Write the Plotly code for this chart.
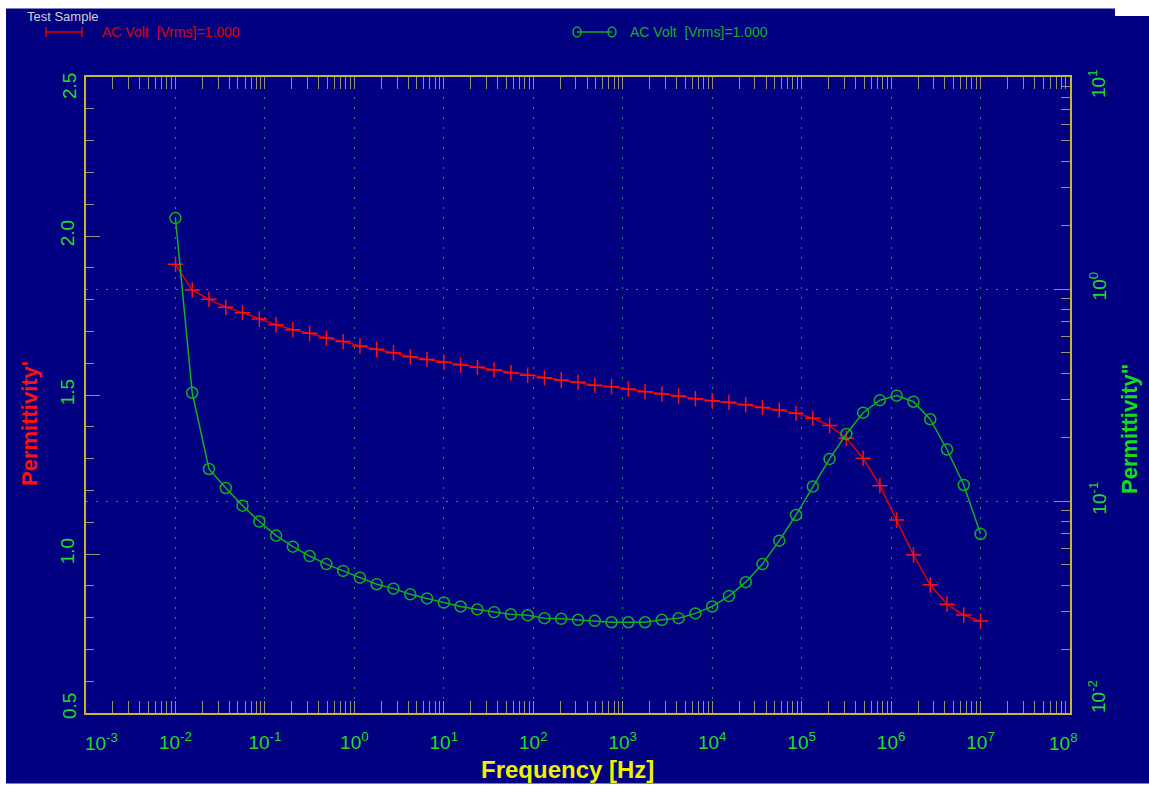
import plotly.graph_objects as go

# Frequency sweep [Hz]
freq_hz = [0.01, 0.0154, 0.02371, 0.03652, 0.05623, 0.0866, 0.1334, 0.2054, 0.3162, 0.487, 0.7499,
           1.155, 1.778, 2.738, 4.217, 6.494, 10, 15.4, 23.71, 36.52, 56.23, 86.6, 133.4, 205.4,
           316.2, 487, 749.9, 1155, 1778, 2738, 4217, 6494, 1.0e4, 1.54e4, 2.371e4, 3.652e4,
           5.623e4, 8.66e4, 1.334e5, 2.054e5, 3.162e5, 4.87e5, 7.499e5, 1.155e6, 1.778e6,
           2.738e6, 4.217e6, 6.494e6, 1.0e7]

# Real part of permittivity
eps_real = [1.911, 1.830, 1.801, 1.776, 1.759, 1.739, 1.721, 1.705, 1.694, 1.679, 1.668, 1.654,
            1.644, 1.633, 1.620, 1.612, 1.603, 1.594, 1.587, 1.579, 1.570, 1.562, 1.554, 1.547,
            1.540, 1.531, 1.526, 1.519, 1.510, 1.503, 1.497, 1.488, 1.482, 1.477, 1.469, 1.461,
            1.453, 1.443, 1.427, 1.404, 1.364, 1.301, 1.215, 1.107, 0.997, 0.903, 0.842, 0.808,
            0.789]

# Imaginary part of permittivity
eps_imag = [2.16, 0.324, 0.1416, 0.1152, 0.0951, 0.0800, 0.0687, 0.0609, 0.0550, 0.0504, 0.0468,
            0.0435, 0.0405, 0.0386, 0.0363, 0.0347, 0.0332, 0.0318, 0.0308, 0.0299, 0.0292,
            0.0289, 0.0280, 0.0278, 0.0275, 0.0272, 0.0268, 0.0268, 0.0268, 0.0275, 0.0280,
            0.0295, 0.0318, 0.0356, 0.0414, 0.0504, 0.0650, 0.0859, 0.117, 0.158, 0.207, 0.261,
            0.299, 0.314, 0.294, 0.243, 0.175, 0.119, 0.0699]

x_decades = list(range(-3, 9))
y2_decades = list(range(-2, 2))
left_ticks = [0.5, 1.0, 1.5, 2.0, 2.5]

series_label = "AC Volt\u00a0 [Vrms]=1.000"

W, H = 1149, 786
L, R, T, B = 86, 79, 77, 73
PW, PH = W - L - R, H - T - B

NAVY = "#000080"
RED = "#e00000"
GREEN = "#10b020"
LABEL_GREEN = "#22dd22"
AXIS_YELLOW = "#c8b830"
TICK_COL = "#98927a"
GRID_COL = "#12a060"
FONT = "Arial, Liberation Sans, sans-serif"
TICK_SIZE = 19


def px(x):
    return (x - L) / PW


def py(y):
    return (H - B - y) / PH


def sup(e):
    return "10<sup>%d</sup>" % e


fig = go.Figure()

fig.add_trace(go.Scatter(
    x=freq_hz, y=eps_real, name=series_label, mode="lines+markers",
    line=dict(color=RED, width=1.5),
    marker=dict(symbol="cross-thin", size=11, line=dict(color="#ff1010", width=1.5)),
    yaxis="y", showlegend=False))

fig.add_trace(go.Scatter(
    x=freq_hz, y=eps_imag, name=series_label, mode="lines+markers",
    line=dict(color=GREEN, width=1.5),
    marker=dict(symbol="circle-open", size=11, color=GREEN, line=dict(color=GREEN, width=1.5)),
    yaxis="y2", showlegend=False))

x_minor = [m * 10.0 ** e for e in x_decades[:-1] for m in range(2, 10)]
y2_minor = [m * 10.0 ** e for e in y2_decades[:-1] for m in range(2, 10)]

tickfont = dict(family=FONT, size=TICK_SIZE, color=LABEL_GREEN)

# Interior decades get axis labels; the end labels are placed separately below
x_inner = x_decades[1:-1]
y2_inner = y2_decades[1:-1]
left_inner = left_ticks[1:-1]

fig.update_layout(
    width=W, height=H, autosize=False,
    margin=dict(l=L, r=R, t=T, b=B),
    paper_bgcolor=NAVY, plot_bgcolor=NAVY,
    font=dict(family=FONT),
    xaxis=dict(
        type="log", range=[-3, 8],
        showline=True, linecolor=AXIS_YELLOW, linewidth=2, mirror="allticks",
        ticks="inside", ticklen=12, tickwidth=1, tickcolor=TICK_COL,
        tickvals=[10.0 ** e for e in x_inner],
        ticktext=[sup(e) for e in x_inner],
        tickfont=tickfont, ticklabelstandoff=11,
        showgrid=True, gridcolor=GRID_COL, griddash="2px,8px", gridwidth=1,
        minor=dict(tickvals=x_minor, ticks="inside", ticklen=7, tickcolor=TICK_COL, showgrid=False),
        zeroline=False,
    ),
    yaxis=dict(
        range=[0.5, 2.5], side="left",
        showline=True, linecolor=AXIS_YELLOW, linewidth=2,
        ticks="inside", ticklen=14, tickwidth=1, tickcolor=TICK_COL,
        tickvals=left_inner,
        ticktext=["%.1f" % v for v in left_inner],
        tickangle=-90, tickfont=tickfont, ticklabelstandoff=2,
        minor=dict(dtick=0.1, ticks="inside", ticklen=8, tickcolor=TICK_COL, showgrid=False),
        showgrid=False, zeroline=False,
    ),
    yaxis2=dict(
        type="log", range=[-2, 1], overlaying="y", side="right",
        showline=True, linecolor=AXIS_YELLOW, linewidth=2,
        ticks="inside", ticklen=16, tickwidth=1, tickcolor=TICK_COL,
        tickvals=[10.0 ** e for e in y2_inner],
        ticktext=[sup(e) for e in y2_inner],
        tickangle=-90, tickfont=tickfont, ticklabelstandoff=11,
        showgrid=True, gridcolor=GRID_COL, griddash="2px,8px", gridwidth=1,
        minor=dict(tickvals=y2_minor, ticks="inside", ticklen=9, tickcolor=TICK_COL, showgrid=False),
        zeroline=False,
    ),
)

ann = []


def add_text(text, x, y, size, color, angle=0, bold=False, xanchor="center"):
    ann.append(dict(
        text="<b>%s</b>" % text if bold else text,
        x=px(x), y=py(y), xref="paper", yref="paper",
        xanchor=xanchor, yanchor="middle", textangle=angle, showarrow=False,
        font=dict(family=FONT, size=size, color=color)))


# End-of-axis tick labels, nudged inward
add_text("%.1f" % left_ticks[-1], 69, 86, TICK_SIZE, LABEL_GREEN, angle=-90)
add_text("%.1f" % left_ticks[0], 69, 706, TICK_SIZE, LABEL_GREEN, angle=-90)
add_text(sup(y2_decades[-1]), 1097, 84, TICK_SIZE, LABEL_GREEN, angle=-90)
add_text(sup(y2_decades[0]), 1097, 697, TICK_SIZE, LABEL_GREEN, angle=-90)
add_text(sup(x_decades[0]), 101, 742, TICK_SIZE, LABEL_GREEN)
add_text(sup(x_decades[-1]), 1063, 742, TICK_SIZE, LABEL_GREEN)

# Axis titles
add_text("Permittivity'", 30, 424, 22, "#ff1010", angle=-90, bold=True)
add_text("Permittivity\"", 1129, 429, 22, "#10e010", angle=-90, bold=True)
add_text("Frequency [Hz]", 567, 769, 24, "#f0f000", bold=True)

# Legend block
add_text("Test Sample", 25, 16, 13, "#d0d0dc", xanchor="left")
add_text(series_label, 100, 32, 14, RED, xanchor="left")
add_text(series_label, 628, 32, 14, GREEN, xanchor="left")

shapes = []


def pline(x0, y0, x1, y1, color, width=1.5):
    shapes.append(dict(type="line", xref="paper", yref="paper",
                       x0=px(x0), y0=py(y0), x1=px(x1), y1=py(y1),
                       line=dict(color=color, width=width)))


def prect(x0, y0, x1, y1, color):
    shapes.append(dict(type="rect", xref="paper", yref="paper",
                       x0=px(x0), y0=py(y0), x1=px(x1), y1=py(y1),
                       fillcolor=color, line=dict(width=0), layer="above"))


# Legend glyphs
pline(46, 32, 82, 32, RED)
pline(46, 27, 46, 37, RED)
pline(82, 27, 82, 37, RED)
pline(577, 32, 612, 32, GREEN)
for cx in (577, 612):
    shapes.append(dict(type="circle", xref="paper", yref="paper",
                       x0=px(cx - 4), x1=px(cx + 4), y0=py(37), y1=py(27),
                       line=dict(color=GREEN, width=1.5)))

# White page edges around the panel
prect(0, 0, 1115, 8, "white")
prect(1115, 0, W, 16, "white")
prect(0, 0, 6, H, "white")
prect(0, 783.5, W, H, "white")
pline(6, 783.5, W, 783.5, "#8080c0", 1)
pline(6, 8.5, 1115, 8.5, "#8080c0", 1)

fig.update_layout(annotations=ann, shapes=shapes)

fig.write_html("out.html")
